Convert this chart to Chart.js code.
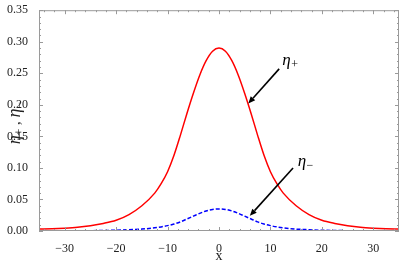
<!DOCTYPE html>
<html>
<head>
<meta charset="utf-8">
<script src="https://cdn.jsdelivr.net/npm/chart.js@4/dist/chart.umd.min.js"></script>
<style>
html,body{margin:0;padding:0;background:#fff;}
#wrap{width:400px;height:264px;position:relative;}
</style>
</head>
<body>
<div id="wrap"><canvas id="c" width="400" height="264"></canvas></div>
<script>
const xValues = [-35,-32.5,-30,-27.5,-25,-22.5,-20,-17.5,-15,-12.5,-11.25,-10,-8.75,-7.5,-6.25,-5,-3.75,-2.5,-1.25,0,1.25,2.5,3.75,5,6.25,7.5,8.75,10,11.25,12.5,15,17.5,20,22.5,25,27.5,30,32.5,35];
const etaPlus = [0.003,0.0035,0.0045,0.006,0.0085,0.012,0.017,0.026,0.040,0.060,0.075,0.094,0.120,0.152,0.186,0.218,0.247,0.270,0.285,0.290,0.285,0.270,0.247,0.218,0.186,0.152,0.120,0.094,0.075,0.060,0.040,0.026,0.017,0.012,0.0085,0.006,0.0045,0.0035,0.003];
const etaMinus = [0.0001,0.00015,0.0002,0.0003,0.0005,0.0008,0.0012,0.002,0.003,0.005,0.0065,0.0085,0.011,0.0145,0.019,0.0235,0.028,0.0318,0.0342,0.035,0.0342,0.0318,0.028,0.0235,0.019,0.0145,0.011,0.0085,0.0065,0.005,0.003,0.002,0.0012,0.0008,0.0005,0.0003,0.0002,0.00015,0.0001];
const xTicks = [-30,-20,-10,0,10,20,30];
const yTicks = [0,0.05,0.10,0.15,0.20,0.25,0.30,0.35];
const xMinorStep = 2;
const yMinorStep = 0.01;
// annotations: [label, subscript, tailX, tailY, tipX, tipY, labelX, labelY]
const notes = [
  ['η','+',11.7,0.257,5.7,0.202,12.3,0.268],
  ['η','−',14.4,0.100,6.0,0.024,15.3,0.108]
];

const SERIF = '"Liberation Serif","Times New Roman",serif';

const framePlugin = {
  id:'frame',
  afterDraw(chart){
    const {ctx, chartArea:a, scales:{x, y}} = chart;
    ctx.save();
    ctx.strokeStyle = '#9a9a9a';
    ctx.lineWidth = 1;
    ctx.strokeRect(a.left+0.5, a.top+0.5, a.right-a.left-1, a.bottom-a.top-1);
    ctx.beginPath();
    for (let v=-34; v<=34.001; v+=xMinorStep){
      const px = Math.round(x.getPixelForValue(v))+0.5;
      const major = xTicks.some(t=>Math.abs(t-v)<1e-6);
      const L = major?4:2;
      ctx.moveTo(px,a.bottom); ctx.lineTo(px,a.bottom-L);
      ctx.moveTo(px,a.top); ctx.lineTo(px,a.top+L);
    }
    for (let k=0; k<=35; k++){
      const v = k*yMinorStep;
      const py = Math.round(y.getPixelForValue(v))+0.5;
      const major = (k%5===0);
      const L = major?4:2;
      ctx.moveTo(a.left,py); ctx.lineTo(a.left+L,py);
      ctx.moveTo(a.right,py); ctx.lineTo(a.right-L,py);
    }
    ctx.stroke();

    ctx.strokeStyle = '#000'; ctx.fillStyle = '#000'; ctx.lineWidth = 1.6;
    notes.forEach(n=>{
      const x1=x.getPixelForValue(n[2]), y1=y.getPixelForValue(n[3]);
      const x2=x.getPixelForValue(n[4]), y2=y.getPixelForValue(n[5]);
      const ang=Math.atan2(y2-y1,x2-x1);
      const hl=7, hw=3;
      const bx=x2-hl*Math.cos(ang), by=y2-hl*Math.sin(ang);
      ctx.beginPath(); ctx.moveTo(x1,y1); ctx.lineTo(bx,by); ctx.stroke();
      ctx.beginPath();
      ctx.moveTo(x2,y2);
      ctx.lineTo(bx+hw*Math.sin(ang), by-hw*Math.cos(ang));
      ctx.lineTo(bx-hw*Math.sin(ang), by+hw*Math.cos(ang));
      ctx.closePath(); ctx.fill();
      const lx=x.getPixelForValue(n[6]), ly=y.getPixelForValue(n[7]);
      ctx.textBaseline='alphabetic'; ctx.textAlign='left';
      ctx.font = 'italic 17px '+SERIF;
      ctx.fillText(n[0], lx, ly+3);
      const w = ctx.measureText(n[0]).width;
      ctx.font = '12px '+SERIF;
      ctx.fillText(n[1], lx+w+0.5, ly+6);
    });

    ctx.fillStyle='#222';
    ctx.font = '14px '+SERIF;
    ctx.textAlign='center'; ctx.textBaseline='alphabetic';
    ctx.fillText('x', (a.left+a.right)/2, 260);

    ctx.translate(20, 123);
    ctx.rotate(-Math.PI/2);
    const parts = [['η','italic 18px',0],['+','12px',3],[' , ','15px',0],['η','italic 18px',0],['−','12px',3]];
    let total=0;
    parts.forEach(p=>{ctx.font=p[1]+' '+SERIF; total+=ctx.measureText(p[0]).width;});
    let cx=-total/2;
    ctx.textAlign='left';
    parts.forEach(p=>{ctx.font=p[1]+' '+SERIF; ctx.fillText(p[0],cx,p[2]); cx+=ctx.measureText(p[0]).width;});
    ctx.restore();
  }
};

new Chart(document.getElementById('c'), {
  type:'line',
  data:{
    datasets:[
      {label:'η+', data:xValues.map((v,i)=>({x:v,y:etaPlus[i]})), borderColor:'#ff0000', borderWidth:1.5, pointRadius:0, cubicInterpolationMode:'monotone', fill:false},
      {label:'η−', data:xValues.map((v,i)=>({x:v,y:etaMinus[i]})), borderColor:'#0000ff', borderWidth:1.5, borderDash:[4,2], pointRadius:0, cubicInterpolationMode:'monotone', fill:false}
    ]
  },
  options:{
    responsive:false, animation:false, devicePixelRatio:1,
    layout:{padding:{top:7,right:1,left:0,bottom:0}},
    plugins:{legend:{display:false}, tooltip:{enabled:false}},
    scales:{
      x:{type:'linear', min:-35, max:35,
        afterBuildTicks:s=>{s.ticks=xTicks.map(v=>({value:v}));},
        afterFit:s=>{s.height=33;},
        grid:{display:false}, border:{display:false},
        ticks:{autoSkip:false, maxRotation:0, padding:3, color:'#222', font:{family:SERIF,size:12},
          callback:v=> v<0 ? '−'+Math.abs(v) : String(v)}
      },
      y:{type:'linear', min:0, max:0.35,
        afterBuildTicks:s=>{s.ticks=yTicks.map(v=>({value:v}));},
        afterFit:s=>{s.width=39;},
        grid:{display:false}, border:{display:false},
        ticks:{autoSkip:false, padding:3, color:'#222', font:{family:SERIF,size:12},
          callback:v=>Number(v).toFixed(2)}
      }
    }
  },
  plugins:[framePlugin]
});
</script>
</body>
</html>
